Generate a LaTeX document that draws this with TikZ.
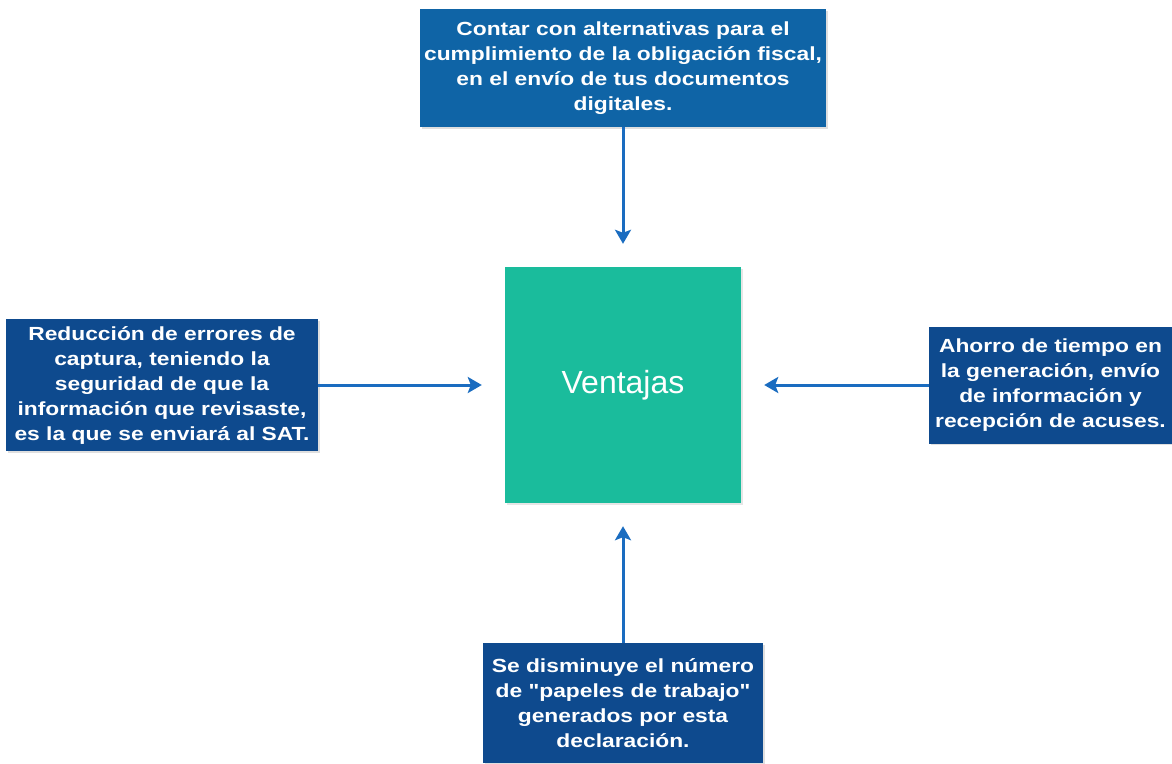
\documentclass[tikz,border=0pt]{standalone}
\usepackage{fontspec}
\setmainfont{Liberation Sans}
\newfontfamily\boxfont[FakeStretch=1.2]{Liberation Sans}
\usetikzlibrary{positioning,arrows.meta,shadows}
\definecolor{topblue}{HTML}{0F64A6}
\definecolor{navyblue}{HTML}{0E4A8E}
\definecolor{arrowblue}{HTML}{1A6CC0}
\definecolor{ventgreen}{HTML}{1ABC9C}
\tikzstyle{block} = [fill=navyblue, text=white, align=center, inner sep=0pt,
    font=\boxfont\fontsize{19}{25}\selectfont\bfseries,
    drop shadow={shadow xshift=1.5pt, shadow yshift=-1.5pt, opacity=0.25}]
\tikzstyle{link} = [-{Stealth[length=14pt, width=16pt, inset=3pt]}, arrowblue, line width=3pt, shorten >=23pt]

\begin{document}
\begin{tikzpicture}[auto, node distance=317pt]
        \useasboundingbox (0,0) rectangle (1172pt,-763pt);
        \node [fill=ventgreen, text=white, minimum width=236pt, minimum height=236pt,
            font=\fontsize{32}{36}\selectfont,
            drop shadow={shadow xshift=1.5pt, shadow yshift=-1.5pt, opacity=0.2}] (V) at (623pt,-385pt) {Ventajas};

        \node [block, fill=topblue, minimum width=406pt, minimum height=118pt, above of=V] (alt)
            {Contar con alternativas para el\\cumplimiento de la obligación fiscal,\\en el envío de tus documentos\\digitales.};
        \node [block, minimum width=312pt, minimum height=132pt, left of=V, node distance=461pt] (err)
            {Reducción de errores de\\captura, teniendo la\\seguridad de que la\\información que revisaste,\\es la que se enviará al SAT.};
        \node [block, minimum width=243pt, minimum height=117pt, right of=V, node distance=427.5pt] (time)
            {Ahorro de tiempo en\\la generación, envío\\de información y\\recepción de acuses.};
        \node [block, minimum width=280pt, minimum height=120pt, below of=V, node distance=318pt] (paper)
            {Se disminuye el número\\de \symbol{34}papeles de trabajo\symbol{34}\\generados por esta\\declaración.};

        \draw [link] (alt) -- (V);
        \draw [link] (err) -- (V);
        \draw [link] (time) -- (V);
        \draw [link] (paper) -- (V);
    \end{tikzpicture}
\end{document}
